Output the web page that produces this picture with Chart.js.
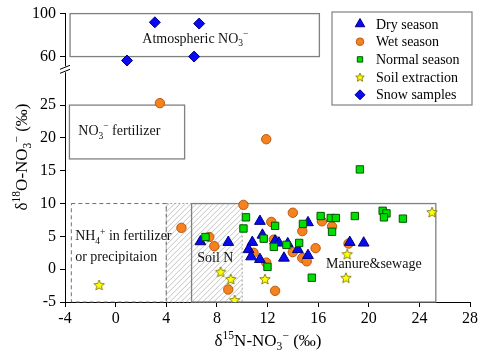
<!DOCTYPE html>
<html><head><meta charset="utf-8">
<script src="https://cdn.jsdelivr.net/npm/chart.js@4.4.1/dist/chart.umd.min.js"></script>
<style>html,body{margin:0;padding:0;background:#fff}canvas{display:block}</style>
</head><body>
<canvas id="c" width="484" height="358"></canvas>
<script>
// ---- tick labels ----
const xTicks = [-4, 0, 4, 8, 12, 16, 20, 24, 28];
const yTicksLow = [-5, 0, 5, 10, 15, 20, 25];
const yTicksHigh = [60, 80, 100];

// ---- series (δ15N, δ18O) ----
const dryX = [6.7, 8.9, 10.8, 10.5, 10.7, 11.4, 11.4, 11.6, 12.6, 12.9, 13.6, 13.3, 14.4, 15.2, 15.2, 18.5, 19.6];
const dryY = [4.2, 4.1, 4.1, 3.0, 1.9, 1.5, 7.3, 5.2, 4.3, 4.0, 3.9, 1.7, 3.0, 7.1, 2.1, 4.1, 4.0];

const wetX = [3.5, 11.9, 5.2, 7.4, 7.8, 8.9, 10.1, 10.9, 11.9, 12.3, 12.5, 12.6, 14.0, 14.0, 14.75, 14.75, 15.1, 15.8, 16.3, 17.1, 18.4];
const wetY = [25.3, 19.8, 6.3, 4.9, 3.5, -3.1, 9.8, 2.5, 1.0, 7.2, 4.5, -3.3, 8.6, 2.6, 5.8, 1.7, 1.2, 3.2, 7.3, 6.5, 3.9];

const normX = [7.1, 10.3, 10.1, 11.7, 12.0, 12.6, 12.5, 13.5, 14.5, 14.8, 15.5, 16.2, 17.0, 17.4, 17.1, 18.9, 19.3, 21.1, 21.4, 21.2, 22.7];
const normY = [4.9, 7.9, 6.2, 4.65, 0.35, 6.6, 3.4, 3.7, 4.0, 6.9, -1.3, 8.1, 7.8, 7.8, 5.7, 8.1, 15.2, 8.9, 8.5, 7.9, 7.7];

const soilX = [-1.3, 8.3, 9.1, 9.4, 11.8, 18.3, 18.2, 25.0];
const soilY = [-2.4, -0.4, -1.5, -4.7, -1.5, 2.3, -1.3, 8.7];

const snowX = [3.1, 6.6, 0.9, 6.2];
const snowY = [91.9, 90.7, 56.3, 60.0];

const seriesNames = ['Dry season', 'Wet season', 'Normal season', 'Soil extraction', 'Snow samples'];

// ---- source regions [x0, x1, y0, y1, axis] ----
const atmRegion = [-3.6, 16.1, 60, 100, 'y2'];
const fertRegion = [-3.65, 5.45, 16.8, 25, 'y'];
const nh4Region = [-3.5, 4, -5, 10, 'y'];
const soilRegion = [4, 10, -5, 10, 'y'];
const manureRegion = [6, 25.3, -5, 10, 'y'];

const FONT = "'Liberation Serif', 'Times New Roman', serif";

function pts(xs, ys) { return xs.map((x, i) => ({x: x, y: ys[i]})); }

function makeStar(r, fill, stroke) {
  const s = Math.ceil(r * 2 + 3);
  const c = document.createElement('canvas');
  c.width = c.height = s;
  const g = c.getContext('2d');
  const cx = s / 2, cy = s / 2 + 0.5;
  g.beginPath();
  for (let i = 0; i < 10; i++) {
    const a = -Math.PI / 2 + i * Math.PI / 5;
    const rr = i % 2 ? r * 0.45 : r;
    g.lineTo(cx + rr * Math.cos(a), cy + rr * Math.sin(a));
  }
  g.closePath();
  g.fillStyle = fill; g.fill();
  g.lineWidth = 0.8; g.strokeStyle = stroke; g.stroke();
  return c;
}
const starBig = makeStar(5.5, '#ffff00', '#6b6b00');
const starSmall = makeStar(4.5, '#ffff00', '#6b6b00');

function drawRich(ctx, parts, x, y, size, align) {
  const fonts = parts.map(p => (p[1] ? (size * 0.68).toFixed(1) : size) + 'px ' + FONT);
  const widths = parts.map((p, i) => { ctx.font = fonts[i]; return ctx.measureText(p[0]).width; });
  const total = widths.reduce((a, b) => a + b, 0);
  let cx = align === 'center' ? x - total / 2 : x;
  ctx.textAlign = 'left';
  ctx.textBaseline = 'alphabetic';
  parts.forEach((p, i) => {
    ctx.font = fonts[i];
    const dy = p[1] === 1 ? -size * 0.4 : (p[1] === -1 ? size * 0.25 : 0);
    ctx.fillText(p[0], cx, y + dy);
    cx += widths[i];
  });
}

function rectPx(chart, r) {
  const xs = chart.scales.x, ys = chart.scales[r[4]];
  const x0 = xs.getPixelForValue(r[0]), x1 = xs.getPixelForValue(r[1]);
  const y0 = ys.getPixelForValue(r[3]), y1 = ys.getPixelForValue(r[2]);
  return [x0, y0, x1 - x0, y1 - y0];
}

const regionPlugin = {
  id: 'regions',
  beforeDatasetsDraw(chart) {
    const ctx = chart.ctx;
    const xs = chart.scales.x, yl = chart.scales.y, yh = chart.scales.y2;
    ctx.save();
    // hatched soil N region
    const h = rectPx(chart, soilRegion);
    ctx.save();
    ctx.beginPath(); ctx.rect(h[0], h[1], h[2], h[3]); ctx.clip();
    ctx.strokeStyle = '#b4b4b4'; ctx.lineWidth = 0.8;
    ctx.beginPath();
    for (let k = -200; k < 200; k += 5.5) {
      ctx.moveTo(h[0] + k, h[1] + h[3]);
      ctx.lineTo(h[0] + k + 200, h[1] + h[3] - 200);
    }
    ctx.stroke();
    ctx.restore();
    ctx.strokeStyle = '#a0a0a0'; ctx.lineWidth = 1; ctx.setLineDash([2, 2]);
    ctx.strokeRect(h[0], h[1], h[2], h[3]);
    // NH4 dashed box
    const n = rectPx(chart, nh4Region);
    ctx.strokeStyle = '#707070'; ctx.setLineDash([4, 3]); ctx.lineWidth = 1;
    ctx.strokeRect(n[0], n[1], n[2], n[3]);
    ctx.setLineDash([]);
    // solid boxes
    ctx.strokeStyle = '#808080'; ctx.lineWidth = 1.3;
    [manureRegion, fertRegion, atmRegion].forEach(r => {
      const p = rectPx(chart, r);
      ctx.strokeRect(p[0], p[1], p[2], p[3]);
    });
    // region labels
    ctx.fillStyle = '#111';
    const X = v => xs.getPixelForValue(v);
    drawRich(ctx, [['Atmospheric NO'], ['3', -1], ['\u2212', 1]], X(6.3), yh.getPixelForValue(77.7) + 5, 14, 'center');
    drawRich(ctx, [['NO'], ['3', -1], ['\u2212', 1], [' fertilizer']], X(-2.95), yl.getPixelForValue(21.2) + 5, 14, 'left');
    drawRich(ctx, [['NH'], ['4', -1], ['+', 1], [' in fertilizer']], X(-3.2), yl.getPixelForValue(5.15) + 5, 14, 'left');
    drawRich(ctx, [['or precipitaion']], X(-3.2), yl.getPixelForValue(2.0) + 5, 14, 'left');
    drawRich(ctx, [['Soil N']], X(6.45), yl.getPixelForValue(1.9) + 5, 14, 'left');
    drawRich(ctx, [['Manure&sewage']], X(20.4), yl.getPixelForValue(0.95) + 5, 14, 'center');
    ctx.restore();
  },
  afterDraw(chart) {
    const ctx = chart.ctx;
    const xs = chart.scales.x, yh = chart.scales.y2;
    ctx.save();
    // axis break
    const yb = yh.bottom;
    const ax = xs.left;
    ctx.fillStyle = '#fff';
    ctx.fillRect(ax - 2, yb - 1, 4, 6);
    ctx.strokeStyle = '#000'; ctx.lineWidth = 1;
    ctx.beginPath();
    ctx.moveTo(ax - 5, yb + 2); ctx.lineTo(ax + 5, yb - 2);
    ctx.moveTo(ax - 5, yb + 6); ctx.lineTo(ax + 5, yb + 2);
    ctx.stroke();
    // axis titles
    ctx.fillStyle = '#000';
    drawRich(ctx, [['\u03b4'], ['15', 1], ['N-NO'], ['3', -1], ['\u2212', 1], [' (\u2030)']], 268, 346, 17, 'center');
    ctx.save();
    ctx.translate(27, 157);
    ctx.rotate(-Math.PI / 2);
    drawRich(ctx, [['\u03b4'], ['18', 1], ['O-NO'], ['3', -1], ['\u2212', 1], [' (\u2030)']], 0, 0, 17, 'center');
    ctx.restore();
    // legend
    const lx = 332, ly = 12, lw = 140, lh = 93;
    ctx.fillStyle = '#fff'; ctx.fillRect(lx, ly, lw, lh);
    ctx.strokeStyle = '#808080'; ctx.lineWidth = 1.2; ctx.strokeRect(lx, ly, lw, lh);
    chart.data.datasets.forEach((ds, i) => {
      const cy = 24 + i * 17.7;
      ctx.fillStyle = ds.backgroundColor; ctx.strokeStyle = ds.borderColor; ctx.lineWidth = 1;
      const style = ds.pointStyle === starBig ? starSmall : ds.pointStyle;
      Chart.helpers.drawPoint(ctx, {pointStyle: style, radius: ds.legendRadius, borderWidth: 1, rotation: 0}, 360, cy);
      ctx.fillStyle = '#000';
      ctx.font = '14px ' + FONT; ctx.textAlign = 'left'; ctx.textBaseline = 'middle';
      ctx.fillText(ds.label, 376, cy + 1);
    });
    ctx.restore();
  }
};

const tickFont = {family: FONT, size: 16};
function fixTicks(arr) { return s => { s.ticks = arr.map(v => ({value: v})); }; }

new Chart(document.getElementById('c'), {
  type: 'scatter',
  data: {
    datasets: [
      {label: seriesNames[0], data: pts(dryX, dryY), yAxisID: 'y', pointStyle: 'triangle', radius: 6.2, legendRadius: 5.5,
       backgroundColor: '#0a0af0', borderColor: '#000080', borderWidth: 1, order: 2},
      {label: seriesNames[1], data: pts(wetX, wetY), yAxisID: 'y', pointStyle: 'circle', radius: 4.7, legendRadius: 3.8,
       backgroundColor: '#f5821f', borderColor: '#b85a10', borderWidth: 1, order: 3},
      {label: seriesNames[2], data: pts(normX, normY), yAxisID: 'y', pointStyle: 'rect', radius: 5.2, legendRadius: 3.8,
       backgroundColor: '#00e000', borderColor: '#005500', borderWidth: 1, order: 1},
      {label: seriesNames[3], data: pts(soilX, soilY), yAxisID: 'y', pointStyle: starBig, radius: 5.5, legendRadius: 4.5,
       backgroundColor: '#ffff00', borderColor: '#6b6b00', borderWidth: 1, order: 0},
      {label: seriesNames[4], data: pts(snowX, snowY), yAxisID: 'y2', pointStyle: 'rectRot', radius: 5.5, legendRadius: 5,
       backgroundColor: '#0a0af0', borderColor: '#000080', borderWidth: 1, order: 0}
    ]
  },
  options: {
    responsive: false,
    animation: false,
    devicePixelRatio: 1,
    events: [],
    layout: {padding: {top: 12, right: 14, left: 0, bottom: 0}},
    plugins: {legend: {display: false}, tooltip: {enabled: false}},
    scales: {
      x: {
        type: 'linear', position: 'bottom', min: -4, max: 28,
        afterBuildTicks: fixTicks(xTicks),
        afterFit: s => { s.height = 56; },
        grid: {display: true, drawOnChartArea: false, drawTicks: true, tickLength: 5, color: '#000'},
        border: {display: true, color: '#000', width: 1},
        ticks: {font: tickFont, color: '#000', padding: 2, maxRotation: 0}
      },
      y: {
        type: 'linear', position: 'left', stack: 'ystack', stackWeight: 236, min: -5, max: 30.76,
        afterBuildTicks: fixTicks(yTicksLow),
        afterFit: s => { s.width = 65; },
        grid: {display: true, drawOnChartArea: false, drawTicks: true, tickLength: 5, color: '#000'},
        border: {display: true, color: '#000', width: 1},
        ticks: {font: tickFont, color: '#000', padding: 4}
      },
      y2: {
        type: 'linear', position: 'left', stack: 'ystack', stackWeight: 54, min: 50, max: 100,
        afterBuildTicks: fixTicks(yTicksHigh),
        afterFit: s => { s.width = 65; },
        grid: {display: true, drawOnChartArea: false, drawTicks: true, tickLength: 5, color: '#000'},
        border: {display: true, color: '#000', width: 1},
        ticks: {font: tickFont, color: '#000', padding: 4}
      }
    }
  },
  plugins: [regionPlugin]
});
</script>
</body></html>
